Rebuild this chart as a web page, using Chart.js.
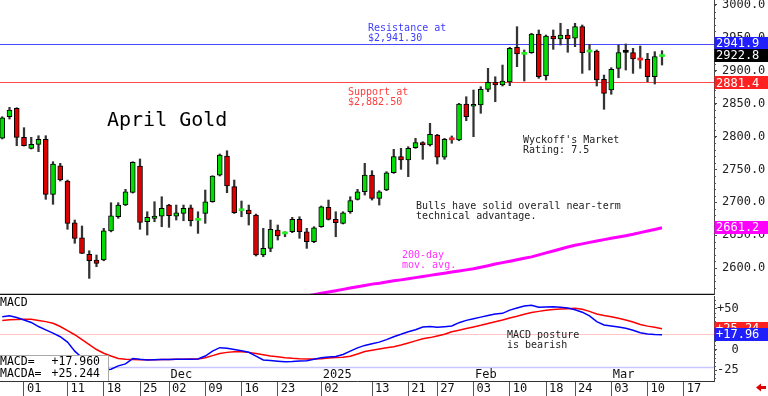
<!DOCTYPE html>
<html><head><meta charset="utf-8">
<script src="https://cdn.jsdelivr.net/npm/chart.js@4.4.1/dist/chart.umd.min.js"></script>
<style>
html,body{margin:0;padding:0;background:#fff;}
#wrap{position:relative;width:768px;height:396px;overflow:hidden;background:#fff;}
#c1{position:absolute;left:0;top:0;}
#c2{position:absolute;left:0;top:295px;}
</style></head><body>
<div id="wrap"><canvas id="c1" width="768" height="295"></canvas><canvas id="c2" width="768" height="101"></canvas></div>
<script>
// ---------------- DATA ----------------
const axisDates = [
 '2024-10-29','2024-10-30','2024-10-31','2024-11-01','2024-11-04','2024-11-05','2024-11-06','2024-11-07','2024-11-08',
 '2024-11-11','2024-11-12','2024-11-13','2024-11-14','2024-11-15','2024-11-18','2024-11-19','2024-11-20','2024-11-21','2024-11-22',
 '2024-11-25','2024-11-26','2024-11-27','2024-11-29','2024-12-02','2024-12-03','2024-12-04','2024-12-05','2024-12-06',
 '2024-12-09','2024-12-10','2024-12-11','2024-12-12','2024-12-13','2024-12-16','2024-12-17','2024-12-18','2024-12-19','2024-12-20',
 '2024-12-23','2024-12-24','2024-12-26','2024-12-27','2024-12-30','2024-12-31','2025-01-02','2025-01-03',
 '2025-01-06','2025-01-07','2025-01-08','2025-01-09','2025-01-10','2025-01-13','2025-01-14','2025-01-15','2025-01-16','2025-01-17',
 '2025-01-21','2025-01-22','2025-01-23','2025-01-24','2025-01-27','2025-01-28','2025-01-29','2025-01-30','2025-01-31',
 '2025-02-03','2025-02-04','2025-02-05','2025-02-06','2025-02-07','2025-02-10','2025-02-11','2025-02-12','2025-02-13','2025-02-14',
 '2025-02-18','2025-02-19','2025-02-20','2025-02-21','2025-02-24','2025-02-25','2025-02-26','2025-02-27','2025-02-28',
 '2025-03-03','2025-03-04','2025-03-05','2025-03-06','2025-03-07','2025-03-10','2025-03-11','2025-03-12',
 '2025-03-13','2025-03-14','2025-03-17','2025-03-18','2025-03-19','2025-03-20'
];
const openP = [2797.3,2830.1,2842.9,2798.8,2782.0,2788.1,2795.7,2712.1,2755.6,2732.3,2668.9,2646.1,2620.8,2612.2,2612.2,2656.3,2678.0,2695.8,2715.1,2755.1,
 2670.4,2675.6,2679.0,2695.8,2679.0,2683.2,2691.7,2672.5,2683.2,2700.8,2741.4,2770.3,2723.7,2687.2,2688.2,2680.6,2619.8,2629.9,2657.8,2651.9,
 2655.2,2674.1,2655.2,2640.0,2662.8,2692.3,2674.1,2668.0,2685.6,2704.5,2716.0,2741.4,2706.0,2718.6,2744.9,2769.3,2764.3,2783.0,2790.6,2787.1,
 2802.3,2768.4,2796.5,2794.7,2849.4,2846.0,2847.9,2871.8,2882.4,2878.3,2882.9,2935.7,2925.0,2927.5,2955.9,2892.5,2952.9,2948.3,2954.4,2949.4,
 2967.0,2928.5,2930.0,2887.0,2870.7,2903.7,2928.1,2927.5,2917.6,2917.4,2890.9,2921.6];
const highP = [2830.1,2844.4,2843.8,2813.4,2798.8,2801.2,2801.2,2761.7,2759.2,2733.8,2673.0,2663.9,2626.3,2619.8,2660.4,2699.3,2699.3,2719.7,2761.7,2765.8,
 2685.6,2700.8,2708.4,2696.9,2695.8,2695.8,2695.8,2685.6,2718.6,2740.4,2773.4,2778.4,2733.8,2701.9,2695.8,2682.1,2660.4,2673.0,2665.4,2655.2,
 2677.1,2678.0,2660.4,2662.8,2694.3,2703.4,2685.6,2685.6,2708.4,2719.7,2759.2,2748.0,2717.6,2746.5,2780.5,2782.0,2784.5,2797.3,2792.1,2820.1,
 2803.3,2797.3,2800.8,2850.5,2860.5,2870.7,2875.7,2903.7,2890.9,2908.7,2935.7,2967.0,2931.6,2957.0,2962.0,2954.4,2962.0,2972.2,2963.0,2972.2,
 2969.6,2940.2,2931.6,2893.5,2904.6,2939.2,2940.7,2934.1,2937.6,2926.5,2929.0,2930.5];
const lowP = [2796.2,2826.6,2786.0,2785.5,2781.0,2776.9,2704.5,2696.9,2732.3,2658.9,2637.6,2622.0,2584.3,2602.0,2611.0,2655.0,2675.6,2695.0,2714.0,2658.9,
 2650.2,2670.4,2662.8,2661.9,2673.0,2671.9,2663.9,2652.7,2668.0,2700.0,2740.0,2714.5,2683.0,2678.0,2665.4,2618.3,2617.2,2624.8,2642.6,2647.6,
 2653.7,2645.2,2629.9,2638.5,2661.9,2673.0,2647.6,2667.0,2683.2,2703.4,2711.0,2703.4,2695.8,2717.6,2744.0,2750.1,2738.9,2782.0,2765.3,2785.6,
 2758.2,2765.3,2789.7,2793.6,2824.0,2799.7,2835.3,2868.1,2852.9,2876.8,2877.3,2906.2,2884.4,2926.5,2888.5,2885.9,2932.6,2939.2,2928.1,2936.6,
 2896.1,2901.1,2876.8,2841.4,2864.2,2889.4,2901.1,2896.1,2903.7,2883.3,2879.8,2908.7];
const closeP = [2828.6,2840.3,2798.8,2786.0,2788.1,2795.7,2712.1,2758.2,2733.8,2668.0,2645.2,2622.4,2611.1,2607.1,2656.7,2679.5,2695.8,2716.0,2760.8,2669.5,
 2677.2,2679.0,2690.8,2679.5,2684.1,2690.8,2671.9,2673.8,2700.8,2740.0,2771.9,2724.7,2684.1,2688.8,2682.1,2619.8,2629.9,2658.9,2648.7,2653.2,
 2674.1,2655.2,2640.0,2661.3,2693.2,2674.1,2668.9,2684.1,2702.4,2716.0,2741.4,2706.0,2716.0,2744.9,2769.3,2764.3,2782.0,2790.6,2787.1,2803.3,
 2768.4,2795.7,2795.0,2849.4,2830.1,2848.5,2871.8,2882.4,2878.3,2884.4,2934.1,2925.5,2926.5,2955.9,2890.9,2952.9,2948.3,2954.4,2948.3,2967.0,
 2927.5,2929.8,2885.9,2865.7,2902.2,2927.5,2928.1,2917.9,2916.3,2890.9,2921.4,2922.8];
const ma200FirstDate = '2024-12-26';
const ma200 = [2553,2555,2557.5,2559.5,2561.5,2563.5,2565.5,2567.5,2569.5,2571.5,2573.5,2575.5,2577,2578.8,2580.5,2582,2583.7,2585.4,2587.1,2588.8,
 2590.5,2592.2,2593.9,2595.6,2597.2,2599,2601.3,2603.6,2606,2608.2,2610.4,2612.6,2614.8,2617,2620,2623,2626,2629,2632,2634.5,
 2636.7,2639,2641.2,2643.2,2645.2,2647.2,2649.2,2651.3,2653.8,2656.2,2658.7,2661.2];
const macd = [40,41,39,36,33,28,24,20,15.6,9,-2,-10,-17,-22,-25,-24,-20,-17.5,-11,-12,
 -12.8,-12.5,-12.3,-12.2,-12,-12,-11.8,-11.6,-8,-2,2.2,1.5,0,-1.5,-3.4,-8,-12.8,-13.5,-14.2,-14.8,
 -14.5,-14,-13.7,-12,-10,-9,-8.5,-6,-2,2,5,7,9,12,15.6,18.5,21.7,24,27.5,28,
 27,27.8,28.7,32.7,35.5,37.5,39.5,41.5,43.3,44.1,48,50.5,53,54,51.5,51.8,52.2,51.5,50.5,48.5,
 45.5,41,34,30,28.7,27.5,26,23.5,20.5,19,18.2,17.96];
const macdSignal = [35.5,36.2,36.6,36.8,36.8,35.5,34,32,28,23,18,12,6,0,-4.5,-8,-11,-12,-12.2,-12.4,
 -12.5,-12.5,-12.3,-12.2,-12,-11.8,-11.7,-11.6,-10,-7.5,-5,-3.5,-2.8,-2.7,-3.5,-5,-6.5,-7.8,-8.8,-10,
 -10.8,-11.3,-11.6,-11.6,-11.2,-10.5,-9.8,-9.3,-8.3,-5.5,-2.5,-1,0.5,2,3.4,5.5,8,10.5,13,14.5,
 16.5,18.5,21.7,23.5,25.5,27.5,29.5,31.8,33.9,36,38.5,40.5,43,45,46.5,47.8,48.7,49.3,49.8,50.2,
 49,46.5,43.3,41.5,40,38,36,33.5,30.5,28.5,27,25.24];
const tickDates = ['2024-11-01','2024-11-11','2024-11-18','2024-11-25','2024-12-02','2024-12-09','2024-12-16','2024-12-23',
 '2025-01-02','2025-01-13','2025-01-21','2025-01-27','2025-02-03','2025-02-10','2025-02-18','2025-02-24','2025-03-03','2025-03-10','2025-03-17'];
const monthLabelDates = ['2024-12-02','2025-01-02','2025-02-03','2025-03-03'];
const monthLabels = ['Dec','2025','Feb','Mar'];
const priceTicks = [2600,2650,2700,2750,2800,2850,2900,2950,3000];
const macdTicks = [-25,0,25,50];
const resistance = 2941.30, support = 2882.50;
const priceBadgeValues = [2941.9, 2922.8, 2881.4, 2661.2];
const macdBadgeValues = [25.24, 17.96];
const macdReadout = [17.960, 25.244];
const macdGuides = [18.9, -21.3];

// ---------------- CHART ----------------
const MONO = '"DejaVu Sans Mono", monospace';
Chart.defaults.font.family = MONO;
Chart.defaults.color = '#111';
const X_MIN = -0.31, X_MAX = 98.17;

const bodyData = closeP.map((c, i) => ({x: i, y: [openP[i], c]}));
const wickData = closeP.map((c, i) => ({x: i, y: [lowP[i], highP[i]]}));
const maStart = axisDates.indexOf(ma200FirstDate);
const maData = ma200.map((v, k) => ({x: maStart + k, y: v}));
const macdData = macd.map((v, i) => ({x: i, y: v}));
const sigData = macdSignal.map((v, i) => ({x: i, y: v}));

const isDoji = i => Math.abs(closeP[i] - openP[i]) < 2.5;
const candleColor = i => closeP[i] > openP[i] ? (isDoji(i) ? '#22ee22' : '#00dd00')
                     : closeP[i] < openP[i] ? (isDoji(i) ? '#ee2222' : '#dd0000') : '#000';

function txt(ctx, s, x, y, color, size, align) {
  ctx.save();
  ctx.fillStyle = color; ctx.font = size + 'px ' + MONO;
  ctx.textAlign = align || 'left'; ctx.textBaseline = 'alphabetic';
  ctx.fillText(s, x, y);
  ctx.restore();
}
function hline(ctx, x1, x2, y, color, w) {
  ctx.save(); ctx.strokeStyle = color; ctx.lineWidth = w;
  ctx.beginPath(); ctx.moveTo(x1, y); ctx.lineTo(x2, y); ctx.stroke(); ctx.restore();
}
function badge(ctx, scale, value, label, bg) {
  const y = scale.getPixelForValue(value);
  ctx.save();
  ctx.fillStyle = bg; ctx.fillRect(scale.left + 0.5, Math.round(y - 6.5), 768 - scale.left, 13);
  ctx.fillStyle = '#fff'; ctx.font = '12px ' + MONO; ctx.textAlign = 'left'; ctx.textBaseline = 'middle';
  ctx.fillText(label, scale.left + 2, y + 0.5);
  ctx.restore();
}
function minorTicks(ctx, scale, from, to, step) {
  ctx.save(); ctx.strokeStyle = '#555'; ctx.lineWidth = 1; ctx.beginPath();
  for (let v = from; v <= to + 1e-9; v += step) {
    const y = Math.round(scale.getPixelForValue(v)) + 0.5;
    ctx.moveTo(scale.left, y); ctx.lineTo(scale.left + 2, y);
  }
  ctx.stroke(); ctx.restore();
}

const topDecor = {
  id: 'topDecor',
  beforeDatasetsDraw(chart) {
    const {ctx, chartArea: a, scales: {y}} = chart;
    hline(ctx, a.left, a.right, Math.round(y.getPixelForValue(resistance)) + 0.5, '#4848ff', 1);
    hline(ctx, a.left, a.right, Math.round(y.getPixelForValue(support)) + 0.5, '#ff4848', 1);
  },
  afterDatasetsDraw(chart) {
    const {ctx} = chart;
    txt(ctx, 'April Gold', 107, 126, '#000', 20);
    txt(ctx, 'Resistance at', 368, 31, '#3c3cff', 10);
    txt(ctx, '$2,941.30', 368, 41, '#3c3cff', 10);
    txt(ctx, 'Support at', 348, 95, '#ff3c3c', 10);
    txt(ctx, '$2,882.50', 348, 105, '#ff3c3c', 10);
    txt(ctx, "Wyckoff's Market", 523, 143, '#222', 10);
    txt(ctx, 'Rating: 7.5', 523, 153, '#222', 10);
    txt(ctx, 'Bulls have solid overall near-term', 416, 209, '#222', 10);
    txt(ctx, 'technical advantage.', 416, 219, '#222', 10);
    txt(ctx, '200-day', 402, 258, '#ff33ff', 10);
    txt(ctx, 'mov. avg.', 402, 268, '#ff33ff', 10);
  },
  afterDraw(chart) {
    const {ctx, chartArea: a, scales: {y}} = chart;
    hline(ctx, 0, a.right, a.bottom + 0.5, '#111', 1.4);
    minorTicks(ctx, y, 2570, 3000, 10);
    const cols = ['#2020ff', '#000000', '#ff2020', '#ff00ff'];
    priceBadgeValues.forEach((v, k) => badge(ctx, y, v, v.toFixed(1), cols[k]));
  }
};

new Chart(document.getElementById('c1'), {
  type: 'bar',
  data: { datasets: [
    { label: 'body', data: bodyData, order: 0, grouped: false, barThickness: 5, minBarLength: 2,
      borderSkipped: false, borderColor: '#000',
      backgroundColor: c => c.type === 'data' ? candleColor(c.dataIndex) : '#000',
      borderWidth: c => c.type === 'data' ? (isDoji(c.dataIndex) ? 0 : 1) : 1 },
    { label: 'wick', data: wickData, order: 1, grouped: false, barThickness: 1.6,
      backgroundColor: '#333', borderWidth: 0 },
    { type: 'line', label: 'ma', data: maData, order: 2, borderColor: '#ff00ff', borderWidth: 3,
      pointRadius: 0, tension: 0 }
  ]},
  options: {
    responsive: false, animation: false, devicePixelRatio: 1,
    layout: { padding: { left: 0, right: 0, top: 0, bottom: 1 } },
    plugins: { legend: { display: false }, tooltip: { enabled: false } },
    scales: {
      x: { type: 'linear', display: false, min: X_MIN, max: X_MAX, offset: false, bounds: 'data', grid: { offset: false } },
      y: { type: 'linear', position: 'right', min: 2560.5, max: 3007.6, beginAtZero: false, bounds: 'data',
        afterBuildTicks: s => { s.ticks = priceTicks.map(v => ({value: v})); },
        afterFit: s => { s.width = 54; s.paddingTop = 0; s.paddingBottom = 0; },
        grid: { drawOnChartArea: false, drawTicks: true, tickLength: 3, tickColor: '#444', color: '#444' },
        border: { display: true, color: '#444', width: 1 },
        ticks: { padding: 5, color: '#222', font: { size: 12 }, crossAlign: 'near', callback: v => Number(v).toFixed(1) }
      }
    }
  },
  plugins: [topDecor]
});

const botDecor = {
  id: 'botDecor',
  beforeDatasetsDraw(chart) {
    const {ctx, chartArea: a, scales: {y}} = chart;
    hline(ctx, a.left, a.right, Math.round(y.getPixelForValue(macdGuides[0])) + 0.5, '#ffc4c4', 1);
    hline(ctx, a.left, a.right, Math.round(y.getPixelForValue(macdGuides[1])) + 0.5, '#c8c8ff', 1.5);
  },
  afterDatasetsDraw(chart) {
    const {ctx, chartArea: a, scales: {x}} = chart;
    txt(ctx, 'MACD', 0, 11, '#000', 11.5);
    txt(ctx, 'MACD posture', 507, 43, '#222', 10);
    txt(ctx, 'is bearish', 507, 53, '#222', 10);
    // readout box
    ctx.save();
    ctx.fillStyle = '#fff'; ctx.fillRect(0, 60, 108, a.bottom - 60);
    ctx.strokeStyle = '#aaa'; ctx.lineWidth = 1;
    ctx.beginPath(); ctx.moveTo(0, 60.5); ctx.lineTo(108.5, 60.5); ctx.lineTo(108.5, a.bottom); ctx.stroke();
    ctx.restore();
    txt(ctx, 'MACD=', 0, 70, '#000', 11.5);
    txt(ctx, 'MACDA=', 0, 82, '#000', 11.5);
    txt(ctx, '+' + macdReadout[0].toFixed(3), 100, 70, '#000', 11.5, 'right');
    txt(ctx, '+' + macdReadout[1].toFixed(3), 100, 82, '#000', 11.5, 'right');
    monthLabelDates.forEach((d, k) => {
      txt(ctx, monthLabels[k], x.getPixelForValue(axisDates.indexOf(d)) + 1.5, 83, '#111', 12);
    });
  },
  afterDraw(chart) {
    const {ctx, scales: {y}} = chart;
    minorTicks(ctx, y, -35, 60, 5);
    const cols = ['#ff2020', '#2020ff'];
    macdBadgeValues.forEach((v, k) => badge(ctx, y, v, '+' + v.toFixed(2), cols[k]));
    // small red arrow bottom right
    ctx.save(); ctx.fillStyle = '#e00000';
    ctx.beginPath(); ctx.moveTo(756, 92.5); ctx.lineTo(761, 88.5); ctx.lineTo(761, 96.5); ctx.closePath(); ctx.fill();
    ctx.fillRect(760, 91, 6, 3);
    ctx.restore();
  }
};

new Chart(document.getElementById('c2'), {
  type: 'line',
  data: { datasets: [
    { label: 'MACD', data: macdData, order: 0, borderColor: '#0000ff', borderWidth: 1.5, pointRadius: 0, tension: 0 },
    { label: 'MACDA', data: sigData, order: 1, borderColor: '#ff0000', borderWidth: 1.5, pointRadius: 0, tension: 0 }
  ]},
  options: {
    responsive: false, animation: false, devicePixelRatio: 1,
    layout: { padding: { left: 0, right: 0, top: 1, bottom: 0 } },
    plugins: { legend: { display: false }, tooltip: { enabled: false } },
    scales: {
      x: { type: 'linear', position: 'bottom', min: X_MIN, max: X_MAX, offset: false, bounds: 'data',
        afterBuildTicks: s => { s.ticks = tickDates.map(d => ({value: axisDates.indexOf(d)})); },
        afterFit: s => { s.height = 15; },
        grid: { offset: false, drawOnChartArea: false, drawTicks: true, tickLength: 15, color: '#555', tickColor: '#555', lineWidth: 1 },
        border: { display: true, color: '#333', width: 1 },
        ticks: { autoSkip: false, maxRotation: 0, minRotation: 0, padding: -14, align: 'start', labelOffset: 3,
          color: '#111', font: { size: 12 }, callback: v => axisDates[v] ? axisDates[v].slice(8) : '' }
      },
      y: { type: 'linear', position: 'right', min: -38.41, max: 65.24, bounds: 'data',
        afterBuildTicks: s => { s.ticks = macdTicks.map(v => ({value: v})); },
        afterFit: s => { s.width = 54; s.paddingTop = 0; s.paddingBottom = 0; },
        grid: { drawOnChartArea: false, drawTicks: true, tickLength: 3, tickColor: '#444', color: '#444' },
        border: { display: true, color: '#444', width: 1 },
        ticks: { padding: 0, color: '#222', font: { size: 12 }, crossAlign: 'near',
          callback: v => v > 0 ? '+' + v : (v === 0 ? '  0' : String(v)) }
      }
    }
  },
  plugins: [botDecor]
});
</script>
</body></html>
